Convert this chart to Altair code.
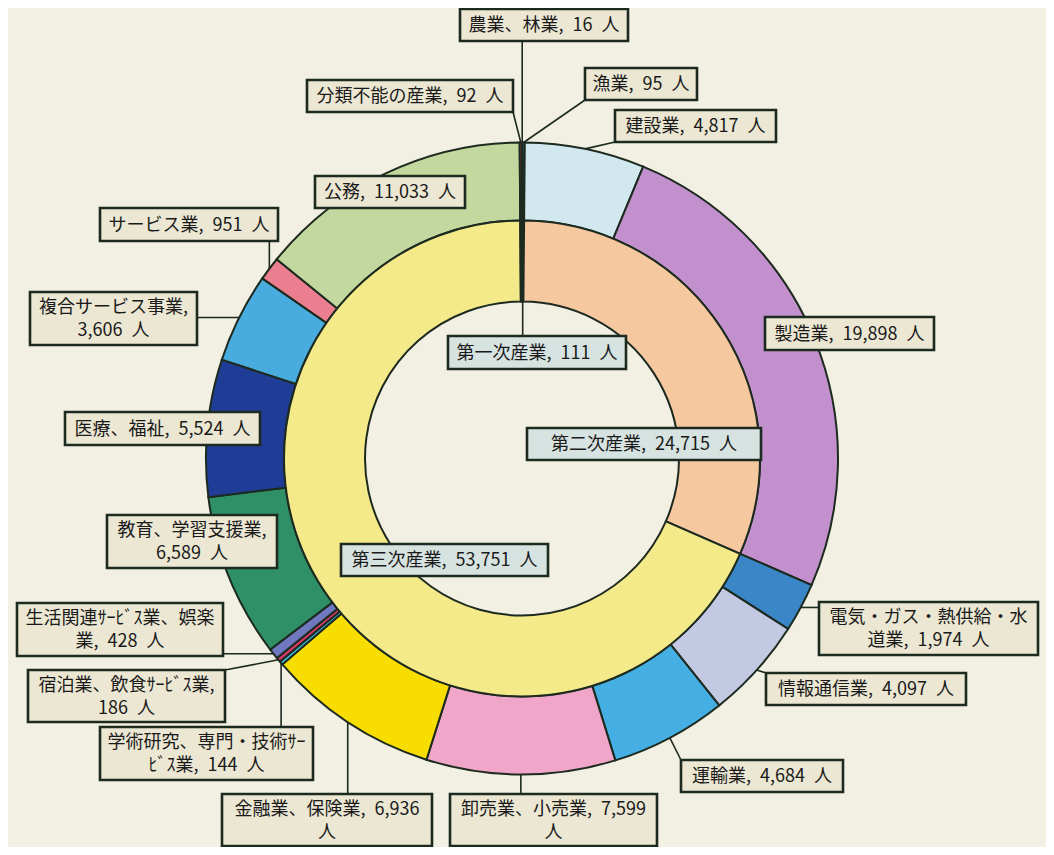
import math
import altair as alt
import pandas as pd

# ---------------- data ----------------
outer_names = ["農業、林業", "漁業", "建設業", "製造業", "電気・ガス・熱供給・水道業",
               "情報通信業", "運輸業", "卸売業、小売業", "金融業、保険業",
               "学術研究、専門・技術サービス業", "宿泊業、飲食サービス業",
               "生活関連サービス業、娯楽業", "教育、学習支援業", "医療、福祉",
               "複合サービス事業", "サービス業", "公務", "分類不能の産業"]
outer_values = [16, 95, 4817, 19898, 1974, 4097, 4684, 7599, 6936,
                144, 186, 428, 6589, 5524, 3606, 951, 11033, 92]
S = "\u2002"  # en space, as in the source's wide spacing
outer_labels = [f"農業、林業,{S}16{S}人", f"漁業,{S}95{S}人", f"建設業,{S}4,817{S}人",
                f"製造業,{S}19,898{S}人",
                f"電気・ガス・熱供給・水\n道業,{S}1,974{S}人", f"情報通信業,{S}4,097{S}人",
                f"運輸業,{S}4,684{S}人", f"卸売業、小売業,{S}7,599\n人",
                f"金融業、保険業,{S}6,936\n人",
                f"学術研究、専門・技術ｻｰ\nﾋﾞｽ業,{S}144{S}人", f"宿泊業、飲食ｻｰﾋﾞｽ業,\n186{S}人",
                f"生活関連ｻｰﾋﾞｽ業、娯楽\n業,{S}428{S}人", f"教育、学習支援業,\n6,589{S}人",
                f"医療、福祉,{S}5,524{S}人", f"複合サービス事業,\n3,606{S}人",
                f"サービス業,{S}951{S}人", f"公務,{S}11,033{S}人", f"分類不能の産業,{S}92{S}人"]

inner_names = ["第一次産業", "第二次産業", "第三次産業", "分類不能の産業(内)"]
inner_values = [111, 24715, 53751, 92]
inner_labels = [f"第一次産業,{S}111{S}人", f"第二次産業,{S}24,715{S}人",
                f"第三次産業,{S}53,751{S}人", ""]

# ---------------- styles ----------------
outer_colors = ["#2e6e3a", "#3a6ab0", "#d0e8ee", "#c290cc", "#3b86c6",
                "#c3c9e3", "#45aee2", "#f0a6c8", "#f7dd00",
                "#3cc0e4", "#d8386a", "#7078c0", "#2f9068", "#1f3d96",
                "#49acdf", "#ec7f8f", "#c3d89e", "#d8303c"]
inner_colors = ["#d0e8ee", "#f5c8a0", "#f5ea8a", "#4a5a8a"]

BG = "#f2efe3"
OUT_BOX = "#ebe7d3"
IN_BOX = "#d6e3e1"
INK = "#1d2a1f"
LH = 23

# ---------------- layout (page pixels) ----------------
OFF = 8
W, H = 1054 - 2 * OFF, 855 - 2 * OFF
CX, CY = 522 - OFF, 458.5 - OFF
R_OUT, R_MID, R_IN = 316, 238, 157

# label boxes: (x0, y0, x1, y1, draw leader)
outer_boxes = [
    (460, 9, 628, 41, True), (585, 68, 697, 100, True), (615, 110, 776, 142, True),
    (765, 317, 934, 350, False), (819, 602, 1038, 655, True), (766, 673, 966, 705, True),
    (681, 760, 843, 792, True), (450, 794, 657, 846, True), (222, 794, 432, 846, True),
    (100, 727, 313, 780, True), (28, 670, 225, 722, True), (17, 603, 223, 656, True),
    (107, 515, 277, 568, False), (65, 412, 260, 445, False), (30, 292, 197, 345, True),
    (100, 208, 278, 241, True), (315, 176, 465, 208, False), (307, 80, 513, 112, True),
]
inner_boxes = [
    (448, 336, 626, 369, True), (527, 428, 761, 460, False), (341, 544, 548, 576, False), None,
]

total = sum(outer_values)


def mid_points(values, r):
    pts, cum = [], 0
    for v in values:
        a = (cum + v / 2) / total * 2 * math.pi
        pts.append((CX + r * math.sin(a), CY - r * math.cos(a)))
        cum += v
    return pts


outer_df = pd.DataFrame({"name": outer_names, "value": outer_values,
                         "color": outer_colors, "idx": range(len(outer_names))})
inner_df = pd.DataFrame({"name": inner_names, "value": inner_values,
                         "color": inner_colors, "idx": range(len(inner_names))})

rows_box, rows_line = [], []
for labels, boxes, pts, fill in [
    (outer_labels, outer_boxes, mid_points(outer_values, R_OUT), OUT_BOX),
    (inner_labels, inner_boxes, mid_points(inner_values, R_IN), IN_BOX),
]:
    for lab, b, p in zip(labels, boxes, pts):
        if b is None:
            continue
        x0, y0, x1, y1, lead = b
        x0, y0, x1, y1 = x0 - OFF, y0 - OFF, x1 - OFF, y1 - OFF
        n = lab.count("\n") + 1
        rows_box.append({"x": x0, "x2": x1, "y": y0, "y2": y1, "fill": fill,
                         "tx": (x0 + x1) / 2,
                         "ty": (y0 + y1) / 2 + 1 - (n - 1) * LH / 2, "label": lab})
        if lead:
            ax = min(max(p[0], x0), x1)
            ay = min(max(p[1], y0), y1)
            rows_line.append({"x": ax, "y": ay, "x2": p[0], "y2": p[1]})

box_df = pd.DataFrame(rows_box)
line_df = pd.DataFrame(rows_line)

theta = alt.Theta("value:Q", stack=True)
order = alt.Order("idx:Q", sort="ascending")

outer_ring = alt.Chart(outer_df).mark_arc(
    radius=R_OUT, radius2=R_MID, stroke=INK, strokeWidth=2
).encode(theta=theta, order=order, color=alt.Color("color:N", scale=None),
         x=alt.value(CX), y=alt.value(CY))

inner_ring = alt.Chart(inner_df).mark_arc(
    radius=R_MID, radius2=R_IN, stroke=INK, strokeWidth=2
).encode(theta=theta, order=order, color=alt.Color("color:N", scale=None),
         x=alt.value(CX), y=alt.value(CY))

px = lambda f: alt.X(f, type="quantitative", scale=None, axis=None)
py = lambda f: alt.Y(f, type="quantitative", scale=None, axis=None)

leaders = alt.Chart(line_df).mark_rule(color=INK, strokeWidth=1.6).encode(
    x=px("x"), y=py("y"), x2="x2", y2="y2")

boxes = alt.Chart(box_df).mark_rect(stroke=INK, strokeWidth=2.6).encode(
    x=px("x"), x2="x2", y=py("y"), y2="y2", fill=alt.Fill("fill:N", scale=None))

texts = alt.Chart(box_df).mark_text(
    font="Noto Sans CJK JP", fontSize=18, color="#1a1a1a", align="center",
    baseline="middle", lineBreak="\n", lineHeight=LH
).encode(x=px("tx"), y=py("ty"), text="label:N")

chart = alt.layer(outer_ring, inner_ring, leaders, boxes, texts).properties(
    width=W, height=H, padding=0, autosize=alt.AutoSizeParams(type="none"),
    background=BG
).configure_view(stroke=None)

chart.save("out.html", embed_options={"renderer": "svg", "actions": False})
